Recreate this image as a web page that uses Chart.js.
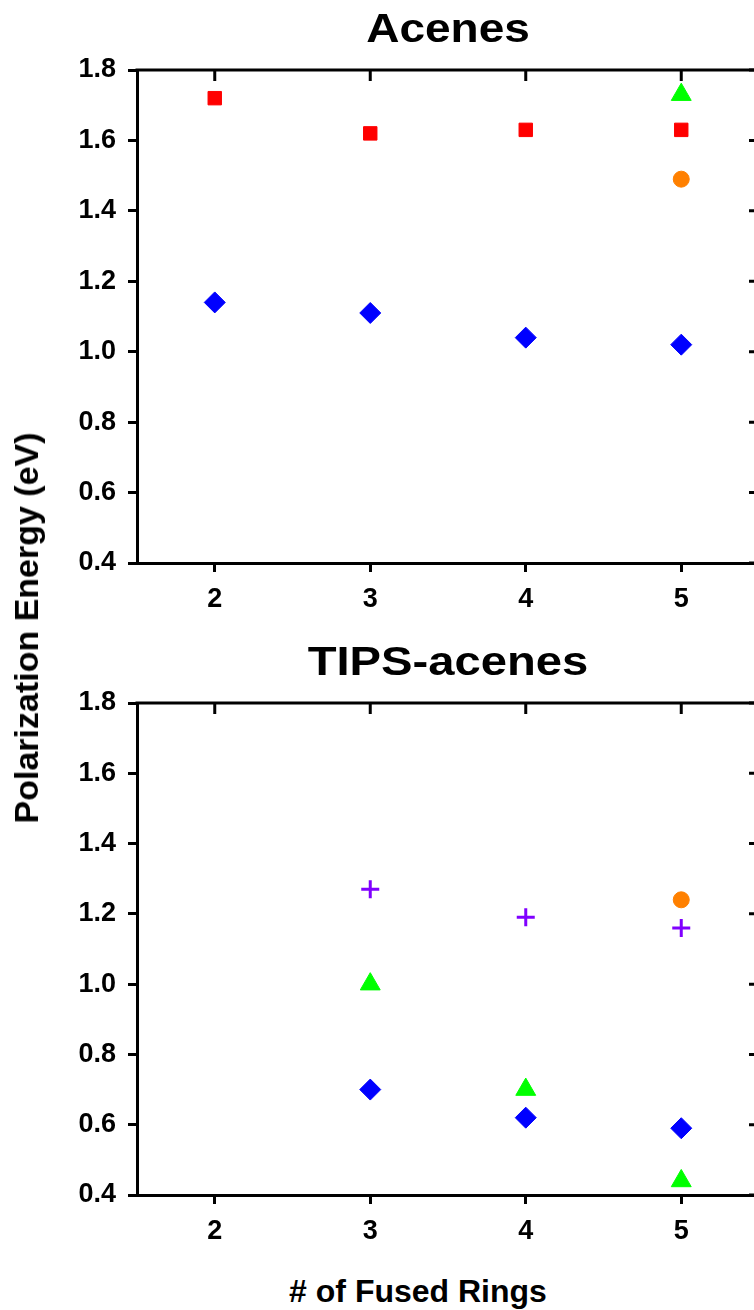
<!DOCTYPE html>
<html>
<head>
<meta charset="utf-8">
<script src="https://cdn.jsdelivr.net/npm/chart.js@4.4.1/dist/chart.umd.min.js"></script>
<style>
  html, body { margin: 0; padding: 0; background: #fff; }
  body { width: 754px; height: 1310px; overflow: hidden; position: relative; font-family: "Liberation Sans", Arial, sans-serif; }
  canvas { position: absolute; left: 0; }
  #c1 { top: 0; }
  #c2 { top: 620px; }
  .ylab { position: absolute; left: 46px; top: 628px; transform-origin: 0 0; transform: rotate(-90deg) translate(-50%, -100%);
          font: bold 34px "Liberation Sans", Arial, sans-serif; white-space: nowrap; color: #000; line-height: 40px; }
  .xlab { position: absolute; left: 418px; top: 1271px; transform: translateX(-50%);
          font: bold 32px "Liberation Sans", Arial, sans-serif; white-space: nowrap; color: #000; line-height: 40px; }
</style>
</head>
<body>
<canvas id="c1" width="780" height="613"></canvas>
<canvas id="c2" width="780" height="625"></canvas>
<div class="ylab">Polarization Energy (eV)</div>
<div class="xlab"># of Fused Rings</div>
<script>
// ---- data ----
const rings = [2, 3, 4, 5];
const xTicks = [2, 3, 4, 5];
const yTicks = [0.4, 0.6, 0.8, 1.0, 1.2, 1.4, 1.6, 1.8];
const titles = ["Acenes", "TIPS-acenes"];

// Acenes
const aceneSquare   = [1.72, 1.62, 1.63, 1.63];
const aceneDiamond  = [1.14, 1.11, 1.04, 1.02];
const aceneTriangle = [null, null, null, 1.73];
const aceneCircle   = [null, null, null, 1.49];

// TIPS-acenes
const tipsPlus     = [null, 1.27, 1.19, 1.16];
const tipsCircle   = [null, null, null, 1.24];
const tipsTriangle = [null, 1.00, 0.70, 0.44];
const tipsDiamond  = [null, 0.70, 0.62, 0.59];

const RED = '#ff0000', BLUE = '#0000ff', GREEN = '#00ff00', ORANGE = '#ff8000', PURPLE = '#8000ff';
const FONT = '"Liberation Sans", Arial, sans-serif';

function pts(arr) {
  return rings.map((r, i) => ({ x: r, y: arr[i] })).filter(p => p.y !== null);
}

function ds(arr, style, color, radius, bw) {
  return {
    data: pts(arr),
    pointStyle: style,
    backgroundColor: color,
    borderColor: color,
    pointRadius: radius,
    pointHoverRadius: radius,
    pointBorderWidth: bw,
    showLine: false
  };
}

const framePlugin = {
  id: 'frame',
  beforeDatasetsDraw(chart, args, opts) {
    const { ctx, chartArea: { left, right, top, bottom }, scales: { x, y } } = chart;
    ctx.save();
    ctx.strokeStyle = '#000';
    ctx.lineWidth = 3;
    ctx.lineJoin = 'miter';
    ctx.beginPath();
    ctx.moveTo(left - 1.5, top);
    ctx.lineTo(right, top);
    ctx.lineTo(right, bottom + 1.5);
    ctx.stroke();
    ctx.beginPath();
    xTicks.forEach(v => { const px = x.getPixelForValue(v); ctx.moveTo(px, top); ctx.lineTo(px, top + 11); });
    yTicks.forEach(v => { const py = y.getPixelForValue(v); ctx.moveTo(right, py); ctx.lineTo(right - 10, py); });
    ctx.stroke();
    // title
    ctx.fillStyle = '#000';
    ctx.font = 'bold 40px ' + FONT;
    ctx.textAlign = 'center';
    ctx.textBaseline = 'alphabetic';
    ctx.translate((left + right) / 2, top - 28);
    ctx.scale(opts.stretch, 1);
    ctx.fillText(opts.text, 0, 0);
    ctx.restore();
  }
};

function makeChart(id, title, stretch, datasets, padTop) {
  return new Chart(document.getElementById(id), {
    type: 'scatter',
    data: { datasets },
    plugins: [framePlugin],
    options: {
      responsive: false,
      animation: false,
      devicePixelRatio: 1,
      layout: { padding: { top: padTop, right: 21, bottom: 0, left: 0 } },
      plugins: {
        legend: { display: false },
        tooltip: { enabled: false },
        frame: { text: title, stretch: stretch }
      },
      scales: {
        x: {
          type: 'linear', min: 1.5, max: 5.5,
          afterFit(s) { s.height = 50; },
          afterBuildTicks(s) { s.ticks = xTicks.map(v => ({ value: v })); },
          border: { display: true, color: '#000', width: 3 },
          grid: { drawOnChartArea: false, drawTicks: true, tickLength: 9, tickWidth: 3, tickColor: '#000' },
          ticks: { color: '#000', padding: 11, font: { family: FONT, size: 27, weight: 'bold' }, callback: v => String(v) }
        },
        y: {
          type: 'linear', min: 0.4, max: 1.8,
          afterFit(s) { s.width = 137; },
          afterBuildTicks(s) { s.ticks = yTicks.map(v => ({ value: v })); },
          border: { display: true, color: '#000', width: 3 },
          grid: { drawOnChartArea: false, drawTicks: true, tickLength: 9, tickWidth: 3, tickColor: '#000' },
          ticks: { color: '#000', padding: 12, font: { family: FONT, size: 27, weight: 'bold' }, callback: v => Number(v).toFixed(1) }
        }
      }
    }
  });
}

makeChart('c1', titles[0], 1.15, [
  ds(aceneSquare, 'rect', RED, 9.5, 1),
  ds(aceneDiamond, 'rectRot', BLUE, 10.5, 1),
  ds(aceneTriangle, 'triangle', GREEN, 11.5, 1),
  ds(aceneCircle, 'circle', ORANGE, 8, 1)
], 70);

makeChart('c2', titles[1], 1.18, [
  ds(tipsPlus, 'cross', PURPLE, 9, 3),
  ds(tipsCircle, 'circle', ORANGE, 8, 1),
  ds(tipsTriangle, 'triangle', GREEN, 11.5, 1),
  ds(tipsDiamond, 'rectRot', BLUE, 10.5, 1)
], 83);
</script>
</body>
</html>
